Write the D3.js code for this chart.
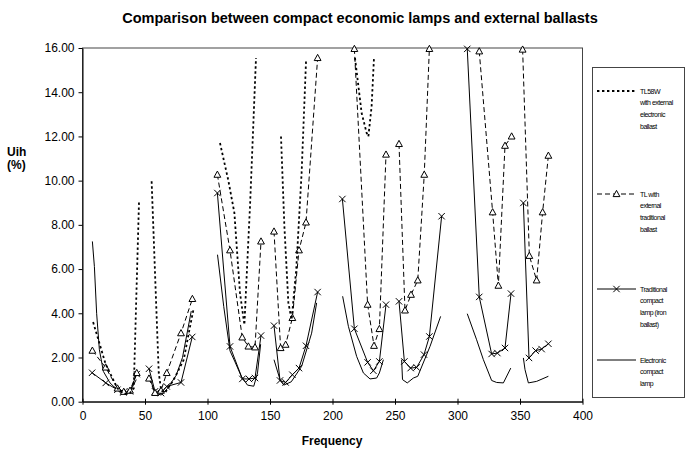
<!DOCTYPE html>
<html lang="en">
<head>
<meta charset="UTF-8">
<title>Compact economic lamps and external ballasts</title>
<script src="https://d3js.org/d3.v7.min.js"></script>
<style>
  html, body { margin: 0; padding: 0; background: #fff; }
  svg { display: block; font-family: "Liberation Sans", Arial, sans-serif; }
  .axis text { font-size: 12px; fill: #000; }
  .axis line { stroke: #000; }
  .title { font-size: 14.5px; font-weight: bold; }
  .lbl { font-size: 12px; font-weight: bold; }
  .leg text { font-size: 7px; letter-spacing: -0.5px; fill: #000; }
</style>
</head>
<body>
<svg id="chart" width="687" height="451"></svg>
<script>
// values, null = gap in the curve
const tl58wFreq = [8.5, 18.5, 28, 33, 38, 41, 45.2, null,
  55.3, 61, 63, 66, 73, 81, 85, 89, null,
  110, 116.7, 121.5, 126, 129.5, 134, 138.8, null,
  158.8, 161.5, 164.7, 167.3, 171, 175.3, 178.8, null,
  218, 223.3, 227.3, 228.7, 231.3, 233.2];
const tl58wUih = [3.6, 1.7, 0.6, 0.35, 0.4, 0.6, 9.06, null,
  9.97, 1.3, 0.5, 0.4, 1.0, 1.9, 3.1, 4.24, null,
  11.7, 10.0, 8.54, 4.92, 3.48, 8.84, 15.55, null,
  12.0, 7.93, 4.47, 3.71, 6.0, 10.35, 15.4, null,
  15.55, 13.06, 12.16, 12.0, 13.36, 15.55];

const tlFreq = [7.9, 18.5, 28, 33, 38, 43.4, null,
  53.2, 58, 62.8, 67.4, 78.8, 87.9, null,
  107.9, 118, 127.8, 132.7, 138, 142.8, null,
  153.2, 158.5, 162.5, 167.9, 173.2, 178.8, 188.1, null,
  217.5, 228.1, 233.2, 237.5, 242.8, null,
  253.2, 258, 262.8, 268.2, 273.4, 277.5, null,
  317.4, 328.1, 332.7, 338, 343.3, null,
  352.1, 357.5, 363.3, 368.1, 372.7];
const tlUih = [2.31, 1.55, 0.6, 0.45, 0.5, 1.3, null,
  1.05, 0.4, 0.5, 1.3, 3.1, 4.65, null,
  10.27, 6.85, 2.91, 2.5, 2.46, 7.25, null,
  7.7, 2.43, 2.58, 3.79, 6.85, 8.11, 15.55, null,
  15.96, 4.39, 2.53, 3.29, 11.18, null,
  11.66, 4.13, 4.84, 5.49, 10.27, 15.96, null,
  15.85, 8.57, 5.25, 11.58, 12.0, null,
  15.93, 6.6, 5.49, 8.57, 11.13];

const tradFreq = [7.7, 18.6, 27.9, 32.7, 38, 43.4, null,
  53.2, 58, 62.8, 67.4, 78.8, 87.8, null,
  107.9, 118, 127.9, 133.2, 138, 142.8, null,
  153.2, 158, 162.5, 167.9, 173.2, 178.8, 188.1, null,
  207.9, 217.5, 228.1, 232.7, 237.5, 242.8, null,
  253.2, 257.5, 262.5, 267.3, 273.2, 277.5, 287.3, null,
  307.8, 317.4, 327.3, 331.9, 338, 342.8, null,
  352.7, 357.2, 362.5, 367.3, 372.7];
const tradUih = [1.31, 0.85, 0.54, 0.42, 0.47, 1.25, null,
  1.49, 0.47, 0.39, 0.69, 0.87, 2.93, null,
  9.44, 2.5, 1.03, 1.03, 1.07, 2.99, null,
  3.44, 0.96, 0.87, 1.22, 1.52, 2.53, 4.96, null,
  9.17, 3.3, 1.78, 1.4, 1.82, 4.39, null,
  4.54, 1.82, 1.52, 1.55, 2.13, 2.95, 8.39, null,
  15.96, 4.74, 2.16, 2.2, 2.43, 4.89, null,
  8.99, 1.98, 2.31, 2.38, 2.62];

const elecFreq = [7.9, 9.5, 11.3, 13.5, 16.7, 22, 27.5, 33, 38, 43, null,
  53, 58, 63, 68, 75, 80, 87, null,
  108, 113, 118, 122, 127, 132, 137, 140, 142.5, null,
  153.2, 158, 161, 167, 175.3, 183.3, 187.3, null,
  208.1, 212.7, 219.3, 224.7, 230, 235.3, 237.5, 240.7, null,
  255.3, 256, 259.8, 264.7, 268.2, 278, 286.5, null,
  307.8, 315.3, 320.7, 327.3, 331.3, 336.7, 342.6, null,
  352.7, 354, 356.7, 363.3, 372.7];
const elecUih = [7.25, 6.12, 4.0, 2.35, 1.37, 0.85, 0.55, 0.4, 0.45, 1.0, null,
  1.2, 0.4, 0.3, 0.6, 1.2, 2.0, 4.1, null,
  6.65, 4.3, 2.3, 1.8, 1.15, 0.75, 0.7, 1.3, 2.6, null,
  1.9, 1.0, 0.75, 0.9, 1.6, 3.1, 4.47, null,
  4.77, 3.41, 2.05, 1.3, 1.03, 1.07, 1.3, 1.9, null,
  1.9, 1.0, 0.85, 1.07, 1.15, 2.5, 3.86, null,
  3.98, 2.8, 1.9, 0.96, 0.87, 0.85, 1.52, null,
  1.98, 1.45, 0.85, 0.92, 1.15];

const xTicks = [0, 50, 100, 150, 200, 250, 300, 350, 400];
const yTicks = [0, 2, 4, 6, 8, 10, 12, 14, 16];

const seriesNames = ["tl58w", "tl", "trad", "elec"];
const legendLabels = [
  ["TL58W", "with external", "electronic", "ballast"],
  ["TL with", "external", "traditional", "ballast"],
  ["Traditional", "compact", "lamp (iron", "ballast)"],
  ["Electronic", "compact", "lamp"]
];

const svg = d3.select("#chart");
const x = d3.scaleLinear().domain([0, 400]).range([82.5, 582.5]);
const y = d3.scaleLinear().domain([0, 16]).range([401.7, 48]);

const styles = {
  tl58w: {dash: "2.4,2.6", width: 1.8, marker: null},
  tl:    {dash: "5,3", width: 1, marker: "tri"},
  trad:  {dash: null, width: 1, marker: "x"},
  elec:  {dash: null, width: 1, marker: null}
};

function zip(fs, vs) {
  return fs.map((f, i) => ({f: f, v: vs[i]}));
}
const data = {
  tl58w: zip(tl58wFreq, tl58wUih),
  tl: zip(tlFreq, tlUih),
  trad: zip(tradFreq, tradUih),
  elec: zip(elecFreq, elecUih)
};

// title + axis labels
svg.append("text").attr("class", "title")
  .attr("x", 360).attr("y", 23).attr("text-anchor", "middle")
  .text("Comparison between compact economic lamps and external ballasts");
svg.append("text").attr("class", "lbl").attr("x", 7).attr("y", 156).text("Uih");
svg.append("text").attr("class", "lbl").attr("x", 7).attr("y", 169).text("(%)");
svg.append("text").attr("class", "lbl")
  .attr("x", 332).attr("y", 445).attr("text-anchor", "middle").text("Frequency");

// frame
svg.append("rect")
  .attr("x", x(0)).attr("y", y(16))
  .attr("width", x(400) - x(0)).attr("height", y(0) - y(16))
  .attr("fill", "none").attr("stroke", "#444").attr("stroke-width", 1);

const yAxis = svg.append("g").attr("class", "axis")
  .attr("transform", `translate(${x(0)},0)`)
  .call(d3.axisLeft(y).tickValues(yTicks).tickFormat(d3.format(".2f"))
    .tickSize(4).tickSizeOuter(0).tickPadding(4));
yAxis.select(".domain").attr("stroke", "#000");

const xAxis = svg.append("g").attr("class", "axis")
  .attr("transform", `translate(0,${y(0)})`)
  .call(d3.axisBottom(x).tickValues(xTicks).tickSize(3).tickSizeOuter(0).tickPadding(7));
xAxis.select(".domain").attr("stroke", "#000");
xAxis.selectAll(".tick line").attr("y1", -3);

const line = d3.line()
  .defined(d => d.v != null)
  .x(d => x(d.f))
  .y(d => y(d.v));

const triPath = "M0,-3.6L3.4,2.6L-3.4,2.6Z";
const xPath = "M-3.2,-3.2L3.2,3.2M-3.2,3.2L3.2,-3.2";

// draw series back to front
["elec", "trad", "tl", "tl58w"].forEach(name => {
  const s = styles[name];
  svg.append("path")
    .datum(data[name])
    .attr("d", line)
    .attr("fill", "none")
    .attr("stroke", "#000")
    .attr("stroke-width", s.width)
    .attr("stroke-dasharray", s.dash);
  if (s.marker) {
    svg.append("g").selectAll("path")
      .data(data[name].filter(d => d.v != null))
      .join("path")
      .attr("transform", d => `translate(${x(d.f)},${y(d.v)})`)
      .attr("d", s.marker === "tri" ? triPath : xPath)
      .attr("fill", s.marker === "tri" ? "#fff" : "none")
      .attr("stroke", "#000")
      .attr("stroke-width", 1);
  }
});

// legend
const leg = svg.append("g").attr("class", "leg");
leg.append("rect").attr("x", 592.5).attr("y", 67.5).attr("width", 92).attr("height", 330)
  .attr("fill", "#fff").attr("stroke", "#444");
const legY = [91, 194, 289, 360];
seriesNames.forEach((name, i) => {
  const s = styles[name];
  const ly = legY[i];
  leg.append("line").attr("x1", 597).attr("x2", 636).attr("y1", ly).attr("y2", ly)
    .attr("stroke", "#000").attr("stroke-width", s.width)
    .attr("stroke-dasharray", s.dash);
  if (s.marker) {
    leg.append("path").attr("transform", `translate(616.5,${ly})`)
      .attr("d", s.marker === "tri" ? triPath : xPath)
      .attr("fill", s.marker === "tri" ? "#fff" : "none")
      .attr("stroke", "#000");
  }
  legendLabels[i].forEach((t, j) => {
    leg.append("text").attr("x", 640).attr("y", ly + 2.5 + j * 11.9).text(t);
  });
});
</script>
</body>
</html>
